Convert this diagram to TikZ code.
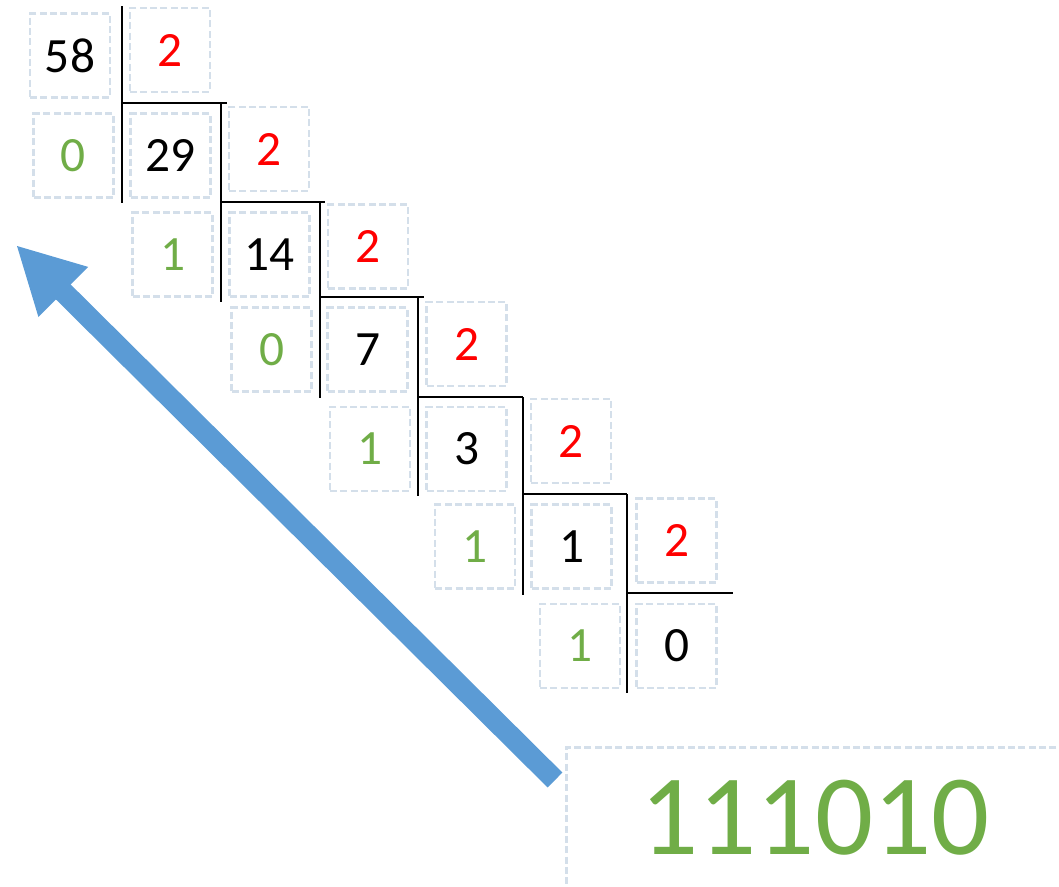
\documentclass[tikz,border=0pt]{standalone}
\usepackage{fontspec}
\setmainfont{Carlito}
\usetikzlibrary{arrows.meta}
\definecolor{bxc}{RGB}{212,223,234}
\definecolor{grn}{RGB}{112,173,71}
\definecolor{blu}{RGB}{91,155,213}
\definecolor{rd}{RGB}{255,0,0}
\begin{document}
\begin{tikzpicture}[x=0.75pt,y=-0.75pt,
  cell/.style={draw=bxc, dash pattern=on 5.25pt off 2.5pt, line width=1.9pt,
    minimum width=60pt, minimum height=63pt, inner sep=0pt,
    font=\fontsize{37}{40}\selectfont},
  num/.style={cell, text=black},
  divisor/.style={cell, text=rd},
  rem/.style={cell, text=grn},
  bar/.style={line width=1.5pt, black}]
\useasboundingbox (0,0) rectangle (1059,886);
\clip (0,0) rectangle (1059,886);
% row 1
\node[num] (n58) at (70,55.5) {58};
\node[divisor] (d1) at (170,50) {2};
% row 2
\node[rem] (r1) at (73.5,155.5) {0};
\node[num] (n29) at (170.5,155.5) {29};
\node[divisor] (d2) at (269,149) {2};
% row 3
\node[rem] (r2) at (172.5,254.5) {1};
\node[num] (n14) at (269.5,254.5) {14};
\node[divisor] (d3) at (368,246.5) {2};
% row 4
\node[rem] (r3) at (271.5,349.5) {0};
\node[num] (n7) at (367.5,349.5) {7};
\node[divisor] (d4) at (466.5,344) {2};
% row 5
\node[rem] (r4) at (370,449) {1};
\node[num] (n3) at (466.5,449) {3};
\node[divisor] (d5) at (571,441) {2};
% row 6
\node[rem] (r5) at (475,546.5) {1};
\node[num] (n1) at (571.5,546.5) {1};
\node[divisor] (d6) at (676.5,540.5) {2};
% row 7
\node[rem] (r6) at (580,646) {1};
\node[num] (n0) at (676.5,646) {0};
% division bars
\draw[bar] (122,6) -- (122,203);
\draw[bar] (122,103) -- (227,103);
\draw[bar] (221,103) -- (221,302);
\draw[bar] (221,202) -- (325,202);
\draw[bar] (320,202) -- (320,398);
\draw[bar] (320,297) -- (424,297);
\draw[bar] (418,297) -- (418,496);
\draw[bar] (418,397) -- (523,397);
\draw[bar] (523,397) -- (523,595);
\draw[bar] (523,494) -- (627,494);
\draw[bar] (627,494) -- (627,693);
\draw[bar] (627,593) -- (733,593);
% result
\node[draw=bxc, dash pattern=on 5.25pt off 2.5pt, line width=1.9pt, anchor=north west,
  minimum width=390pt, minimum height=130pt, inner sep=0pt] (resbox) at (565,746) {};
\node[text=grn, font=\fontsize{86}{90}\selectfont, inner sep=0pt] (bin) at (815,818) {111010};
% arrow
\coordinate (tail) at (555,780);
\coordinate (tip) at (16,245);
\draw[blu, line width=15.75pt, -{Triangle[width=49pt,length=50pt]}] (tail) -- (tip);
\end{tikzpicture}
\end{document}
